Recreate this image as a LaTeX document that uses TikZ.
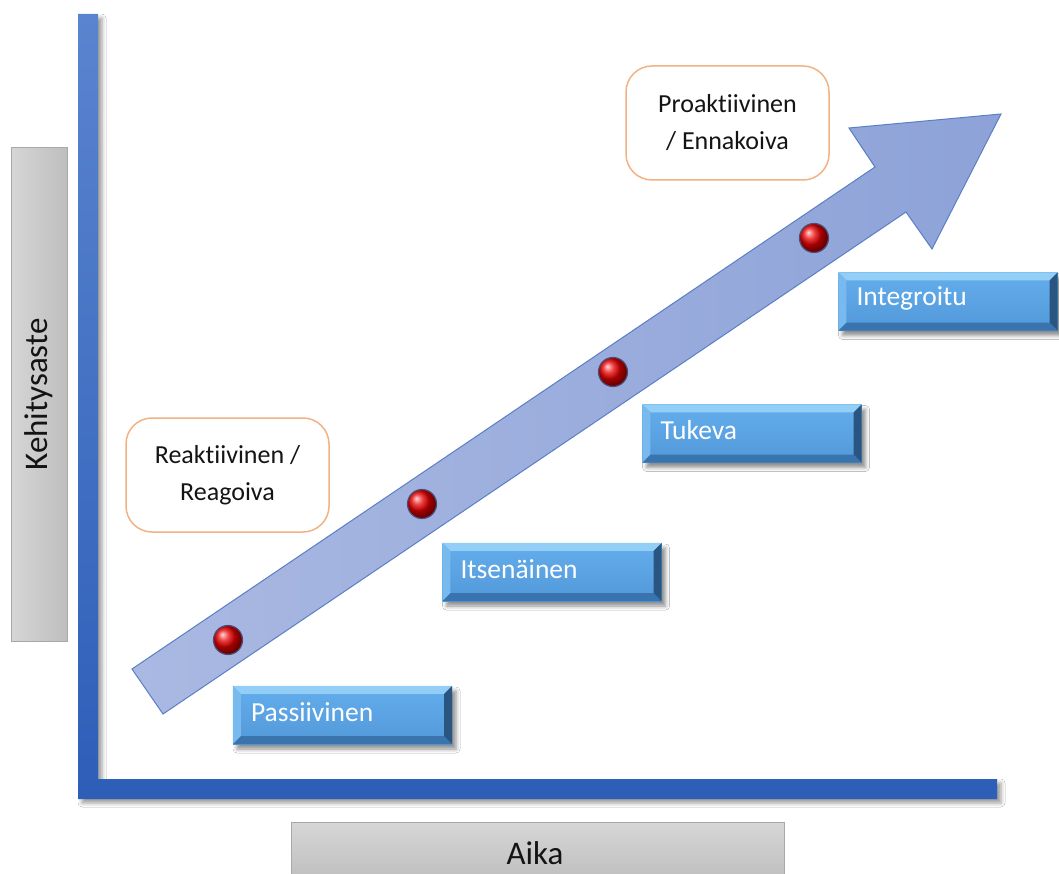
\documentclass[tikz,border=0pt]{standalone}
\usepackage{fontspec}
\setmainfont[Ligatures=NoCommon]{Carlito}
\usetikzlibrary{calc,shadows,shadows.blur}

\definecolor{axisTop}{HTML}{5B84CF}
\definecolor{axisBot}{HTML}{2D5EB8}
\definecolor{arrowA}{HTML}{AAB9E2}
\definecolor{arrowB}{HTML}{8DA2D8}
\definecolor{arrowEdge}{HTML}{5A7FC6}
\definecolor{faceTop}{HTML}{64AEEC}
\definecolor{faceBot}{HTML}{5298DA}
\definecolor{bevelTop}{HTML}{93CEF7}
\definecolor{bevelLeft}{HTML}{78B9EE}
\definecolor{bevelBottom}{HTML}{3A74AE}
\definecolor{bevelRight}{HTML}{2A5580}
\definecolor{noteEdge}{HTML}{F4B183}
\definecolor{greyA}{HTML}{D6D6D6}
\definecolor{greyB}{HTML}{BEBEBE}
\definecolor{greyEdge}{HTML}{A8A8A8}

\tikzset{
  stagebox/.style={rectangle, inner sep=0pt, minimum width=219pt, minimum height=58pt,
    top color=faceTop, bottom color=faceBot,
    blur shadow={shadow xshift=4pt, shadow yshift=-5pt, shadow blur radius=4pt, shadow opacity=45}},
  stagetext/.style={anchor=west, inner sep=0pt, text=white, font=\fontsize{27.5}{31}\selectfont},
  notebox/.style={rectangle, rounded corners=26pt, draw=noteEdge, line width=1.5pt, fill=white,
    minimum width=203pt, minimum height=114pt, align=center,
    font=\fontsize{26}{37}\selectfont, text=black!92},
  axislabel/.style={rectangle, draw=greyEdge, line width=1pt, inner sep=0pt},
  dot/.style={circle, inner sep=0pt, minimum size=29pt, ball color=red!92!black,
    draw=black!55!blue!40!gray, line width=1.2pt}
}

\begin{document}
\begin{tikzpicture}[x=1pt,y=-1pt]
\useasboundingbox (0,0) rectangle (1059,874);
\fill[white] (0,0) rectangle (1059,874);

% axes
\shade[top color=axisTop, bottom color=axisBot,
  blur shadow={shadow xshift=4pt, shadow yshift=-4pt, shadow blur radius=4pt, shadow opacity=40}]
  (78,14) -- (98,14) -- (98,779) -- (997,779) -- (997,799) -- (78,799) -- cycle;

% axis labels
\node[axislabel, minimum width=56pt, minimum height=493pt, left color=greyA, right color=greyB]
  (ybox) at (39,394.5) {};
\node[rotate=90, font=\fontsize{33}{36}\selectfont, text=black!92] (ylab) at (ybox.center) {Kehitysaste};
\node[axislabel, minimum width=493pt, minimum height=60pt, top color=greyA, bottom color=greyB]
  (xbox) at (537.5,852) {};
\node[font=\fontsize{33}{36}\selectfont, text=black!92] (xlab) at (535,853) {Aika};

% growth arrow
\shade[left color=arrowA, right color=arrowB, draw=arrowEdge, line width=1pt]
  (132,669) -- (875,167) -- (849,128) -- (1001,114) -- (932,249) -- (906,212) -- (163,714) -- cycle;

% stage markers
\node[dot] (d1) at (228,640) {};
\node[dot] (d2) at (422,504) {};
\node[dot] (d3) at (613,372) {};
\node[dot] (d4) at (814,238) {};

% stage boxes with bevelled edges
\foreach \n/\x/\y/\t in {pas/342.5/715/Passiivinen, its/552/572/Itsenäinen,
                         tuk/752/433.5/Tukeva, int/948/301.5/Integroitu}{
  \node[stagebox] (\n) at (\x,\y) {};
  \fill[bevelTop] (\n.north west) -- (\n.north east) -- ($(\n.north east)+(-8,8)$) -- ($(\n.north west)+(8,8)$) -- cycle;
  \fill[bevelLeft] (\n.north west) -- (\n.south west) -- ($(\n.south west)+(8,-8)$) -- ($(\n.north west)+(8,8)$) -- cycle;
  \fill[bevelBottom] (\n.south west) -- (\n.south east) -- ($(\n.south east)+(-8,-8)$) -- ($(\n.south west)+(8,-8)$) -- cycle;
  \fill[bevelRight] (\n.north east) -- (\n.south east) -- ($(\n.south east)+(-8,-8)$) -- ($(\n.north east)+(-8,8)$) -- cycle;
  \node[stagetext] (\n-t) at ($(\n.west)+(18,-3)$) {\t};
}

% notes
\node[notebox] (reak) at (227.5,475) {Reaktiivinen /\\Reagoiva};
\node[notebox] (proak) at (727.5,123) {Proaktiivinen\\/ Ennakoiva};
\end{tikzpicture}
\end{document}
